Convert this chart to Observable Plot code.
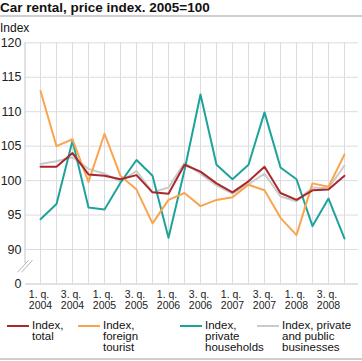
<!DOCTYPE html>
<html>
<head>
<meta charset="utf-8">
<script src="https://cdn.jsdelivr.net/npm/d3@7"></script>
<script src="https://cdn.jsdelivr.net/npm/@observablehq/plot@0.6"></script>
<style>
  body { margin: 0; background: #fff; font-family: "Liberation Sans", Arial, sans-serif; color: #111; }
  #wrap { width: 362px; position: relative; }
  .title { font-weight: bold; font-size: 13.5px; line-height: 15px; height: 15px; border-bottom: 2px solid #cfcfcf; white-space: nowrap; padding-left: 0; }
  .ylab { font-size: 12px; height: 19px; line-height: 22px; }
  #chart svg { display: block; overflow: visible; }
  .legend { position: relative; height: 46px; border-bottom: 2px solid #cfcfcf; }
  .item { position: absolute; top: 8px; display: flex; align-items: flex-start; }
  .sw { width: 22px; height: 2px; margin-top: 5px; flex: none; }
  .lt { margin-left: 3px; font-size: 11.5px; line-height: 11px; white-space: pre; }
</style>
</head>
<body>
<div id="wrap">
  <div class="title">Car rental, price index. 2005=100</div>
  <div class="ylab">Index</div>
  <div id="chart"></div>
  <div class="legend" id="legend"></div>
</div>
<script>
// ---- data ----
const quarters = ["2004Q1","2004Q2","2004Q3","2004Q4","2005Q1","2005Q2","2005Q3","2005Q4",
                  "2006Q1","2006Q2","2006Q3","2006Q4","2007Q1","2007Q2","2007Q3","2007Q4",
                  "2008Q1","2008Q2","2008Q3","2008Q4"];
const tickQuarters = ["2004Q1","2004Q3","2005Q1","2005Q3","2006Q1","2006Q3","2007Q1","2007Q3","2008Q1","2008Q3"];
const tickLabels = ["1. q.\n2004","3. q.\n2004","1. q.\n2005","3. q.\n2005","1. q.\n2006","3. q.\n2006","1. q.\n2007","3. q.\n2007","1. q.\n2008","3. q.\n2008"];
const yTicks = [0, 90, 95, 100, 105, 110, 115, 120];

const total      = [102.0,102.0,104.0,100.9,100.7,100.2,100.8,98.3,98.1,102.3,101.3,99.6,98.3,99.9,102.0,98.2,97.2,98.6,98.7,100.7];
const foreign    = [113.0,105.0,106.0,99.8,106.8,100.7,98.7,93.8,97.2,98.2,96.3,97.2,97.6,99.4,98.6,94.6,92.1,99.6,99.1,103.8];
const households = [94.4,96.6,105.8,96.1,95.8,99.7,103.0,100.7,91.7,101.5,112.5,102.3,100.2,102.3,109.9,101.9,100.2,93.4,97.4,91.6];
const businesses = [102.4,102.8,103.4,101.7,101.0,99.9,101.4,98.3,99.0,102.6,101.0,99.3,98.1,99.5,101.0,97.7,97.0,99.0,98.9,102.2];

const seriesNames = ["Index,\ntotal", "Index,\nforeign\ntourist", "Index,\nprivate\nhouseholds", "Index, private\nand public\nbusinesses"];
const seriesColors = ["#a8292b", "#f9a54e", "#1ea39b", "#cacaca"];

// ---- layout (styles only) ----
const legendLeft = [7, 78, 180, 257];
const W = 362, H = 276, mt = 6.3, mb = 28.5, ml = 25, mr = 4;
const breakLow = 85, breakVal = 87.5;

const tbl = (vals) => quarters.map((q, i) => ({q, v: vals[i]}));
const seriesData = [total, foreign, households, businesses].map(tbl);
const gridColor = "#dcdce0";

const plot = Plot.plot({
  width: W, height: H,
  marginTop: mt, marginBottom: mb, marginLeft: ml, marginRight: mr,
  style: {fontFamily: "'Liberation Sans', Arial, sans-serif", background: "transparent", color: "#111"},
  x: {type: "point", domain: quarters, padding: 0.5, axis: null},
  // broken axis: values below the break are drawn at the bottom of the frame
  y: {type: "linear", domain: [breakLow, 120], transform: v => Math.max(v, breakLow), axis: null},
  marks: [
    Plot.ruleY(yTicks.filter(d => d > 0), {stroke: gridColor, strokeWidth: 1}),
    Plot.ruleX(quarters, {x: d => d, y1: 0, y2: 120, stroke: gridColor, strokeWidth: 1}),
    Plot.ruleY([0], {stroke: "#c4c4c8", strokeWidth: 1}),
    Plot.line(seriesData[3], {x: "q", y: "v", stroke: seriesColors[3], strokeWidth: 2}),
    Plot.line(seriesData[2], {x: "q", y: "v", stroke: seriesColors[2], strokeWidth: 2}),
    Plot.line(seriesData[1], {x: "q", y: "v", stroke: seriesColors[1], strokeWidth: 2}),
    Plot.line(seriesData[0], {x: "q", y: "v", stroke: seriesColors[0], strokeWidth: 2}),
    Plot.text(yTicks, {y: d => d, text: d => String(d), frameAnchor: "left", textAnchor: "end", dx: -4, fontSize: 12.5, fill: "#222"}),
    Plot.text(tickQuarters, {x: d => d, text: (d, i) => tickLabels[i], frameAnchor: "bottom", lineAnchor: "top", textAnchor: "start", dx: -11.7, dy: 6, fontSize: 10.5, lineHeight: 1.05, fill: "#222"})
  ]
});
document.getElementById("chart").appendChild(plot);

// left axis line and axis break, positioned through the plot's y scale
const ysc = plot.scale("y");
const yApply = ysc.apply ? (v => ysc.apply(v)) : d3.scaleLinear().domain(ysc.domain).range(ysc.range);
const svg = d3.select(plot);
const yc = yApply(breakVal);
svg.append("line").attr("x1", ml).attr("x2", ml).attr("y1", yApply(120)).attr("y2", yc - 3)
  .attr("stroke", "#c4c4c8").attr("stroke-width", 1);
[-2, 2].forEach(o => {
  svg.append("line")
    .attr("x1", ml + o - 5.5).attr("y1", yc + 6)
    .attr("x2", ml + o + 5.5).attr("y2", yc - 6)
    .attr("stroke", "#b5b5b8").attr("stroke-width", 1);
});

// legend
const legend = document.getElementById("legend");
seriesNames.forEach((name, i) => {
  const it = document.createElement("div");
  it.className = "item";
  it.style.left = legendLeft[i] + "px";
  const sw = document.createElement("div");
  sw.className = "sw";
  sw.style.background = seriesColors[i];
  const t = document.createElement("div");
  t.className = "lt";
  t.textContent = name;
  it.appendChild(sw); it.appendChild(t);
  legend.appendChild(it);
});
</script>
</body>
</html>
